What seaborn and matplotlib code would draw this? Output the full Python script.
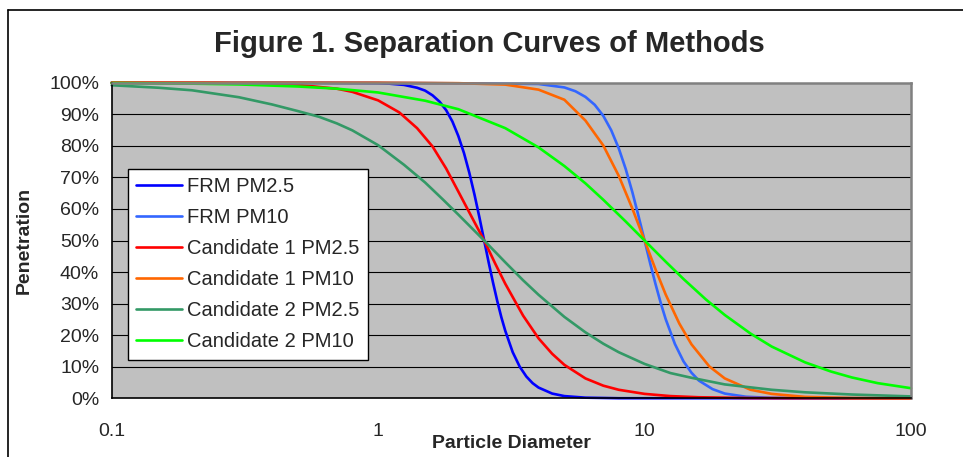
import pandas as pd
import matplotlib
matplotlib.use("Agg")
import matplotlib.pyplot as plt
from matplotlib.lines import Line2D
from matplotlib.ticker import NullLocator
import seaborn as sns

# values (penetration in %)
frm25_x = [0.1, 0.5, 1.0, 1.1, 1.25, 1.4, 1.5, 1.6, 1.7, 1.8, 1.9, 2.0, 2.1, 2.2, 2.3, 2.4,
           2.5, 2.6, 2.7, 2.8, 2.9, 3.0, 3.2, 3.4, 3.6, 3.8, 4.0, 4.5, 5.0, 6.0, 8.0, 100]
frm25_y = [100, 100, 99.86, 99.7, 99.3, 98.4, 97.5, 96.0, 94.0, 91.3, 87.7, 83.1, 77.7,
           71.4, 64.5, 57.3, 50, 43.0, 36.6, 30.8, 25.7, 21.4, 14.6, 10.0, 6.9, 4.8, 3.4,
           1.5, 0.7, 0.2, 0.02, 0]

frm10_x = [0.1, 1, 4, 5, 5.5, 6, 6.5, 7, 7.5, 8, 8.5, 9, 9.5, 10, 10.5, 11, 11.5, 12,
           13, 14, 15, 16, 18, 20, 24, 30, 40, 100]
frm10_y = [100, 100, 99.6, 98.5, 97.3, 95.5, 93.0, 89.5, 84.9, 79.2, 72.6, 65.3, 57.6,
           50, 42.7, 36.1, 30.2, 25.1, 17.2, 11.7, 8.1, 5.6, 2.9, 1.5, 0.5, 0.14, 0.02, 0]

c1_25_x = [0.1, 0.25, 0.5, 0.7, 0.8, 1.0, 1.2, 1.4, 1.6, 1.8, 2.0, 2.25, 2.5, 2.75, 3.0,
           3.5, 4.0, 4.5, 5.0, 6.0, 7.0, 8.0, 10, 12.5, 16, 25, 50, 100]
c1_25_y = [100, 99.9, 99.3, 98.1, 97.1, 94.4, 90.6, 85.6, 79.8, 72.8, 65.5, 57.3, 50,
           42.7, 36.3, 26.2, 19.0, 14.1, 10.6, 6.3, 4.0, 2.7, 1.4, 0.7, 0.33, 0.08, 0.01, 0]

c1_10_x = [0.1, 1, 2, 3, 4, 5, 6, 7, 8, 9, 10, 11, 12, 13.5, 15, 17.5, 20, 25, 30, 40,
           60, 100]
c1_10_y = [100, 100, 99.85, 99.4, 97.8, 94.6, 88.0, 80.1, 70.5, 60.1, 50, 40.8, 32.9,
           23.7, 17.1, 10.1, 6.3, 2.7, 1.4, 0.45, 0.09, 0.01]

c2_25_x = [0.1, 0.15, 0.2, 0.3, 0.4, 0.5, 0.6, 0.7, 0.8, 1.0, 1.25, 1.5, 1.75, 2.0, 2.5,
           3.0, 3.5, 4.0, 5.0, 6.0, 7.0, 8.0, 10, 12.5, 15, 20, 30, 40, 60, 100]
c2_25_y = [99.2, 98.4, 97.6, 95.4, 93.1, 91.0, 89.2, 87.1, 84.9, 80.2, 74.0, 68.4, 63.0,
           58.2, 50, 43.1, 37.4, 32.8, 25.8, 20.9, 17.3, 14.6, 10.9, 8.0, 6.5, 4.4, 2.7,
           1.9, 1.2, 0.6]

c2_10_x = [0.1, 0.2, 0.3, 0.5, 0.7, 1.0, 1.5, 2, 3, 4, 5, 6, 7, 8.5, 10, 12, 14, 17, 20,
           25, 30, 40, 50, 60, 75, 100]
c2_10_y = [99.9, 99.7, 99.45, 98.8, 98.1, 96.9, 94.3, 91.6, 85.6, 79.5, 73.6, 68.1, 62.9,
           56.0, 50, 43.3, 37.8, 31.3, 26.4, 20.5, 16.4, 11.4, 8.5, 6.6, 4.8, 3.2]

series = [
    ("FRM PM2.5", frm25_x, frm25_y, "#0000FF"),
    ("FRM PM10", frm10_x, frm10_y, "#3366FF"),
    ("Candidate 1 PM2.5", c1_25_x, c1_25_y, "#FF0000"),
    ("Candidate 1 PM10", c1_10_x, c1_10_y, "#FF6600"),
    ("Candidate 2 PM2.5", c2_25_x, c2_25_y, "#339966"),
    ("Candidate 2 PM10", c2_10_x, c2_10_y, "#00FF00"),
]

y_ticks = list(range(0, 101, 10))
x_ticks = [0.1, 1, 10, 100]
x_labels = ["0.1", "1", "10", "100"]

sns.set_style("white")
plt.rcParams["font.family"] = ["Liberation Sans", "DejaVu Sans"]

fig = plt.figure(figsize=(9.63, 4.57), dpi=100)
ax = fig.add_axes([111.7 / 963, 1 - 398.3 / 457, (911 - 111.7) / 963, (398.3 - 82.7) / 457])
ax.set_facecolor("#C0C0C0")

for name, xs, ys, col in series:
    df = pd.DataFrame({"d": xs, "p": ys})
    sns.lineplot(data=df, x="d", y="p", color=col, lw=1.9, label=name,
                 ax=ax, sort=False, estimator=None, clip_on=False)

ax.set_xscale("log")
ax.set_xlim(0.1, 100)
ax.set_ylim(0, 100)
ax.set_xticks(x_ticks)
ax.set_xticklabels(x_labels)
ax.xaxis.set_minor_locator(NullLocator())
ax.set_yticks(y_ticks)
ax.set_yticklabels([f"{v}%" for v in y_ticks])
for v in y_ticks[1:-1]:
    ax.axhline(v, color="black", lw=0.8, zorder=0.5)

ax.tick_params(axis="both", which="major", direction="out", length=6, width=1,
               color="black", labelsize=14)
ax.tick_params(axis="y", pad=3)
ax.tick_params(axis="x", pad=12)
for side in ["left", "bottom"]:
    ax.spines[side].set_color("black")
    ax.spines[side].set_linewidth(1.2)
for side in ["top", "right"]:
    ax.spines[side].set_color("#808080")
    ax.spines[side].set_linewidth(1.8)

ax.set_xlabel("")
ax.set_ylabel("")
fig.text(511 / 963, 1 - 443 / 457, "Particle Diameter", ha="center", va="center",
         fontsize=14, fontweight="bold")
fig.text(24 / 963, 1 - 240 / 457, "Penetration", ha="center", va="center",
         rotation=90, fontsize=14, fontweight="bold")
fig.text(489 / 963, 1 - 44 / 457, "Figure 1. Separation Curves of Methods",
         ha="center", va="center", fontsize=21, fontweight="bold")

leg = ax.legend(loc="upper left", bbox_to_anchor=(0.0204, 0.7266), fontsize=14.5,
                frameon=True, fancybox=False, framealpha=1, facecolor="white",
                edgecolor="black", borderaxespad=0, borderpad=0.4,
                handlelength=2.3, handletextpad=0.25, labelspacing=0.6)
leg.get_frame().set_linewidth(1.0)

# outer chart frame (only left and top edges are inside the picture)
fig.add_artist(Line2D([7.5 / 963, 7.5 / 963], [0, 1 - 9.5 / 457], color="black", lw=1.2))
fig.add_artist(Line2D([7.5 / 963, 1], [1 - 9.5 / 457, 1 - 9.5 / 457], color="black", lw=1.2))

fig.savefig("out.png", dpi=100)
